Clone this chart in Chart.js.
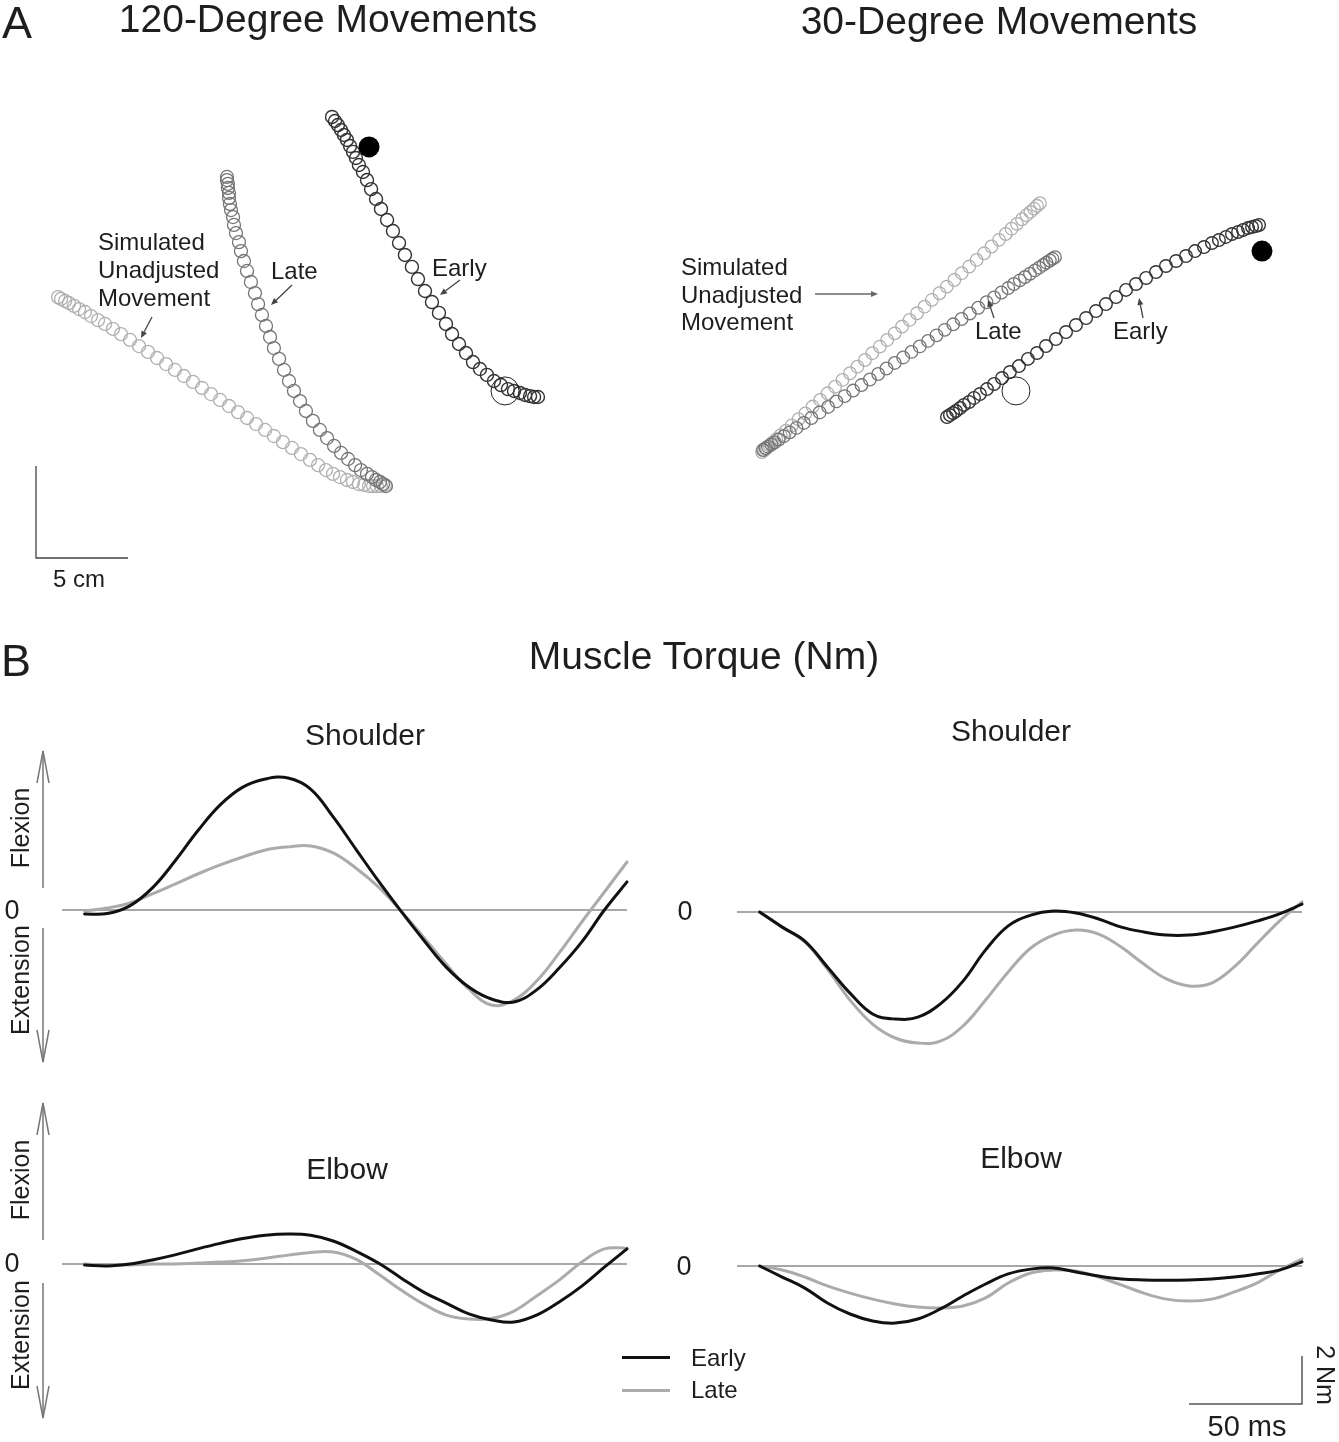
<!DOCTYPE html>
<html><head><meta charset="utf-8">
<script src="https://cdn.jsdelivr.net/npm/chart.js@4/dist/chart.umd.min.js"></script>
<style>
html,body{margin:0;padding:0;background:#fff;}
#page{position:relative;width:1339px;height:1442px;overflow:hidden;font-family:'Liberation Sans',Arial,Helvetica,sans-serif;color:#1e1e1e;}
canvas{position:absolute;}
.t{position:absolute;white-space:nowrap;line-height:1;transform:translate(-50%,-50%);}
.l{position:absolute;white-space:nowrap;line-height:1;transform:translate(0,-50%);}
.sw{position:absolute;height:3px;}
svg{position:absolute;left:0;top:0;}
</style></head><body><div id="page">
<canvas id="pa" width="1339" height="620" style="left:0;top:0"></canvas>
<canvas id="b1" width="576" height="336" style="left:62px;top:742px"></canvas>
<canvas id="b2" width="576" height="336" style="left:737px;top:744px"></canvas>
<canvas id="b3" width="576" height="336" style="left:62px;top:1096px"></canvas>
<canvas id="b4" width="576" height="336" style="left:737px;top:1098px"></canvas>
<svg id="ov" width="1339" height="1442"></svg>
<div id="texts"></div>
</div>
<script>
// ---------- Panel A: hand trajectories (cm, origin at the 5 cm scale-bar corner) ----------
const E120 = [[16.09,23.97],[16.25,23.75],[16.41,23.53],[16.58,23.26],[16.74,22.99],[16.90,22.72],[17.07,22.39],[17.23,22.07],[17.39,21.74],[17.55,21.36],[17.77,20.98],[17.99,20.54],[18.21,20.05],[18.48,19.51],[18.75,18.97],[19.08,18.37],[19.40,17.77],[19.73,17.12],[20.05,16.47],[20.43,15.82],[20.76,15.16],[21.14,14.51],[21.52,13.91],[21.90,13.32],[22.28,12.72],[22.61,12.17],[22.99,11.63],[23.37,11.14],[23.75,10.65],[24.13,10.27],[24.51,9.95],[24.89,9.62],[25.27,9.40],[25.65,9.18],[25.98,9.08],[26.30,8.97],[26.58,8.86],[26.85,8.80],[27.07,8.75],[27.28,8.75]];
const L120 = [[10.38,20.71],[10.38,20.54],[10.43,20.33],[10.43,20.11],[10.49,19.84],[10.49,19.57],[10.54,19.24],[10.60,18.91],[10.71,18.53],[10.76,18.10],[10.87,17.66],[11.03,17.17],[11.14,16.68],[11.30,16.14],[11.47,15.60],[11.68,15.00],[11.90,14.40],[12.07,13.80],[12.28,13.21],[12.50,12.61],[12.72,12.01],[12.93,11.41],[13.21,10.82],[13.48,10.22],[13.75,9.62],[14.02,9.08],[14.35,8.53],[14.67,7.99],[15.05,7.45],[15.43,6.96],[15.82,6.52],[16.20,6.09],[16.58,5.71],[16.96,5.38],[17.34,5.05],[17.66,4.78],[17.99,4.57],[18.26,4.40],[18.48,4.24],[18.70,4.13],[18.86,4.02],[19.02,3.91]];
const S120 = [[1.20,14.18],[1.36,14.08],[1.58,13.97],[1.79,13.86],[2.07,13.70],[2.34,13.53],[2.66,13.37],[2.99,13.15],[3.37,12.93],[3.75,12.72],[4.18,12.45],[4.62,12.17],[5.11,11.85],[5.60,11.52],[6.09,11.20],[6.58,10.87],[7.07,10.54],[7.55,10.22],[8.04,9.89],[8.53,9.57],[9.02,9.24],[9.51,8.91],[10.00,8.59],[10.49,8.26],[10.98,7.93],[11.47,7.61],[11.96,7.28],[12.45,6.96],[12.93,6.63],[13.42,6.30],[13.91,5.98],[14.40,5.65],[14.89,5.33],[15.33,5.05],[15.76,4.78],[16.14,4.57],[16.52,4.40],[16.90,4.24],[17.23,4.13],[17.55,4.02],[17.83,3.97],[18.10,3.91],[18.32,3.91],[18.53,3.91],[18.75,3.91],[18.97,3.97]];
const E30 = [[49.51,7.66],[49.67,7.77],[49.84,7.88],[50.00,7.99],[50.22,8.15],[50.43,8.32],[50.71,8.48],[50.98,8.70],[51.30,8.91],[51.68,9.18],[52.07,9.46],[52.50,9.78],[52.93,10.11],[53.42,10.43],[53.91,10.82],[54.40,11.14],[54.89,11.52],[55.43,11.90],[55.98,12.28],[56.52,12.66],[57.07,13.04],[57.61,13.42],[58.15,13.80],[58.70,14.18],[59.24,14.57],[59.78,14.89],[60.33,15.22],[60.87,15.54],[61.41,15.87],[61.96,16.14],[62.50,16.41],[62.99,16.68],[63.48,16.90],[63.91,17.12],[64.29,17.28],[64.67,17.45],[65.00,17.61],[65.33,17.72],[65.60,17.83],[65.87,17.93],[66.09,17.99],[66.30,18.04],[66.47,18.10]];
const L30 = [[39.51,5.87],[39.65,5.96],[39.78,6.05],[39.96,6.17],[40.15,6.29],[40.37,6.44],[40.65,6.62],[40.96,6.83],[41.33,7.07],[41.73,7.34],[42.14,7.61],[42.59,7.91],[43.05,8.21],[43.50,8.51],[43.95,8.80],[44.41,9.10],[44.86,9.40],[45.32,9.70],[45.77,10.00],[46.22,10.30],[46.67,10.60],[47.13,10.90],[47.58,11.20],[48.03,11.50],[48.48,11.80],[48.94,12.10],[49.39,12.40],[49.85,12.70],[50.30,12.99],[50.75,13.29],[51.21,13.60],[51.66,13.90],[52.07,14.16],[52.47,14.43],[52.84,14.67],[53.15,14.89],[53.47,15.09],[53.75,15.27],[54.02,15.45],[54.29,15.63],[54.52,15.78],[54.74,15.93],[54.92,16.05],[55.10,16.17],[55.24,16.26],[55.38,16.35]];
const S30 = [[39.46,5.76],[39.58,5.87],[39.70,5.98],[39.86,6.12],[40.03,6.27],[40.23,6.45],[40.47,6.67],[40.76,6.92],[41.08,7.21],[41.44,7.54],[41.81,7.86],[42.21,8.23],[42.62,8.59],[43.02,8.95],[43.43,9.31],[43.83,9.68],[44.24,10.04],[44.64,10.40],[45.05,10.76],[45.45,11.13],[45.86,11.49],[46.26,11.85],[46.67,12.21],[47.07,12.58],[47.48,12.94],[47.88,13.30],[48.29,13.66],[48.69,14.03],[49.10,14.39],[49.50,14.75],[49.91,15.11],[50.31,15.48],[50.72,15.84],[51.12,16.20],[51.53,16.56],[51.93,16.93],[52.34,17.29],[52.70,17.61],[53.02,17.90],[53.31,18.16],[53.59,18.41],[53.83,18.63],[54.04,18.81],[54.24,18.99],[54.40,19.14],[54.56,19.28]];
const TARGETS = [[25.49,9.08],[53.26,9.08]];      // open target circles
const STARTS  = [[18.10,22.34],[66.63,16.68]];    // filled start markers
const SCALE_A_X = [0,0,5];                        // 5 cm scale bar
const SCALE_A_Y = [5,0,0];

// ---------- Panel B: muscle torque (Nm) vs time (ms) ----------
const TIME_MS = [0,10,20,30,40,50,60,70,80,90,100,110,120,130,140,150,160,170,180,190,200,210,220,230,240];
const SH120_EARLY = [-0.17,-0.15,0.17,0.92,2.04,3.29,4.38,5.12,5.46,5.5,5.04,3.88,2.54,1.21,-0.05,-1.25,-2.38,-3.21,-3.71,-3.83,-3.33,-2.42,-1.33,0,1.17];
const SH120_LATE  = [-0.04,0.08,0.29,0.67,1.08,1.5,1.88,2.21,2.5,2.63,2.67,2.38,1.75,0.96,-0.04,-1.13,-2.25,-3.29,-3.96,-3.75,-2.96,-1.79,-0.5,0.75,2.0];
const SH30_EARLY  = [0,-0.63,-1.21,-2.29,-3.38,-4.25,-4.46,-4.38,-3.83,-2.88,-1.58,-0.58,-0.13,0.04,-0.04,-0.29,-0.63,-0.83,-0.96,-0.96,-0.83,-0.63,-0.38,-0.08,0.33];
const SH30_LATE   = [0,-0.63,-1.25,-2.38,-3.67,-4.67,-5.25,-5.46,-5.38,-4.75,-3.67,-2.5,-1.5,-0.96,-0.75,-0.92,-1.46,-2.17,-2.79,-3.08,-2.96,-2.29,-1.33,-0.38,0.42];
const EL120_EARLY = [-0.04,-0.08,0,0.17,0.38,0.63,0.86,1.06,1.2,1.25,1.2,0.96,0.54,0.04,-0.58,-1.17,-1.63,-2.08,-2.33,-2.42,-2.13,-1.58,-0.92,-0.13,0.63];
const EL120_LATE  = [0,-0.04,-0.04,0,0,0.04,0.08,0.14,0.24,0.37,0.48,0.5,0.2,-0.42,-1.08,-1.67,-2.13,-2.29,-2.27,-1.96,-1.33,-0.67,0.08,0.63,0.66];
const EL30_EARLY  = [0,-0.46,-0.92,-1.54,-2.0,-2.29,-2.38,-2.21,-1.79,-1.25,-0.75,-0.33,-0.13,-0.08,-0.25,-0.42,-0.54,-0.58,-0.59,-0.58,-0.54,-0.46,-0.33,-0.17,0.17];
const EL30_LATE   = [0,-0.17,-0.46,-0.83,-1.13,-1.38,-1.58,-1.71,-1.75,-1.67,-1.33,-0.71,-0.29,-0.17,-0.21,-0.46,-0.79,-1.13,-1.38,-1.46,-1.38,-1.08,-0.71,-0.17,0.29];
const ZERO_T = [-10,240];
const SCALE_B_T  = [190,240,240];     // 50 ms
const SCALE_B_NM = [-5.75,-5.75,-3.75]; // 2 Nm

// ---------- styling / layout ----------
const PX_PER_CM = 18.4, PX_PER_MS = 2.26, PX_PER_NM = 24;
const toPts = arr => arr.map(p => ({x:p[0], y:p[1]}));
const zip = (xs, ys) => xs.map((x,i) => ({x:x, y:ys[i]}));
const base = {responsive:false, animation:false, events:[], devicePixelRatio:1,
  layout:{padding:0, autoPadding:false},
  plugins:{legend:{display:false}, tooltip:{enabled:false}}};

const paCanvas = document.getElementById('pa');
const ox = 36, oy = 558;
new Chart(paCanvas, {
  type:'scatter',
  data:{datasets:[
    {data:toPts(STARTS), pointRadius:10.5, backgroundColor:'#000', borderColor:'#000', borderWidth:0},
    {data:toPts(TARGETS), pointRadius:14, backgroundColor:'rgba(0,0,0,0)', borderColor:'#222', borderWidth:1},
    {data:toPts(E120), pointRadius:6.5, backgroundColor:'rgba(0,0,0,0)', borderColor:'#333', borderWidth:1.4},
    {data:toPts(E30), pointRadius:6.3, backgroundColor:'rgba(0,0,0,0)', borderColor:'#333', borderWidth:1.4},
    {data:toPts(L120), pointRadius:6.5, backgroundColor:'rgba(0,0,0,0)', borderColor:'#767676', borderWidth:1.3},
    {data:toPts(L30), pointRadius:6.3, backgroundColor:'rgba(0,0,0,0)', borderColor:'#767676', borderWidth:1.3},
    {data:toPts(S120), pointRadius:6.5, backgroundColor:'rgba(0,0,0,0)', borderColor:'#b0b0b0', borderWidth:1.3},
    {data:toPts(S30), pointRadius:6.3, backgroundColor:'rgba(0,0,0,0)', borderColor:'#b0b0b0', borderWidth:1.3},
    {data:zip(SCALE_A_X, SCALE_A_Y), showLine:true, pointRadius:0, borderColor:'#444', borderWidth:1.3, tension:0}
  ]},
  options:Object.assign({}, base, {scales:{
    x:{type:'linear', display:false, min:-ox/PX_PER_CM, max:(paCanvas.width-ox)/PX_PER_CM},
    y:{type:'linear', display:false, min:(oy-paCanvas.height)/PX_PER_CM, max:oy/PX_PER_CM}}})
});

function torque(id, early, late, extra){
  const c = document.getElementById(id);
  const half = c.height/2/PX_PER_NM;
  const ds = [
    {data:zip(TIME_MS, early), borderColor:'#111', borderWidth:3, pointRadius:0, tension:0.4, borderCapStyle:'round'},
    {data:zip(TIME_MS, late), borderColor:'#ababab', borderWidth:3, pointRadius:0, tension:0.4, borderCapStyle:'round'},
    {data:zip(ZERO_T, [0,0]), borderColor:'#8a8a8a', borderWidth:1.4, pointRadius:0, tension:0}
  ];
  if (extra) ds.push(extra);
  new Chart(c, {type:'line', data:{datasets:ds},
    options:Object.assign({}, base, {scales:{
      x:{type:'linear', display:false, min:-10, max:-10 + c.width/PX_PER_MS},
      y:{type:'linear', display:false, min:-half, max:half}}})});
}
torque('b1', SH120_EARLY, SH120_LATE);
torque('b2', SH30_EARLY, SH30_LATE);
torque('b3', EL120_EARLY, EL120_LATE);
torque('b4', EL30_EARLY, EL30_LATE,
  {data:zip(SCALE_B_T, SCALE_B_NM), borderColor:'#555', borderWidth:1.5, pointRadius:0, tension:0});

// ---------- text ----------
const T = [
  ['t','A',17,22,45],
  ['t','120-Degree Movements',328,18,39],
  ['t','30-Degree Movements',999,20,39],
  ['l','Simulated',98,242,24],['l','Unadjusted',98,270,24],['l','Movement',98,298,24],
  ['l','Late',271,271,24],['l','Early',432,268,24],
  ['l','Simulated',681,267,24],['l','Unadjusted',681,295,24],['l','Movement',681,322,24],
  ['l','Late',975,331,24],['l','Early',1113,331,24],
  ['l','5 cm',53,579,24],
  ['t','B',16,660,45],
  ['t','Muscle Torque (Nm)',704,655,39],
  ['t','Shoulder',365,735,30],['t','Shoulder',1011,731,30],
  ['t','Elbow',347,1169,30],['t','Elbow',1021,1158,30],
  ['t','0',12,910,27],['t','0',12,1263,27],['t','0',685,911,27],['t','0',684,1266,27],
  ['r','Flexion',20,828,25],['r','Extension',20,980,25],
  ['r','Flexion',20,1180,25],['r','Extension',20,1335,25],
  ['l','Early',691,1358,24],['l','Late',691,1390,24],
  ['t','50 ms',1247,1426,29],
  ['r2','2 Nm',1325,1375,25]
];
const box = document.getElementById('texts');
T.forEach(([k,s,x,y,f]) => {
  const d = document.createElement('div');
  d.className = (k==='l') ? 'l' : 't';
  d.textContent = s;
  d.style.left = x+'px'; d.style.top = y+'px'; d.style.fontSize = f+'px';
  if (k==='r') d.style.transform = 'translate(-50%,-50%) rotate(-90deg)';
  if (k==='r2') d.style.transform = 'translate(-50%,-50%) rotate(90deg)';
  box.appendChild(d);
});
[['#111',1356],['#ababab',1389]].forEach(([c,y]) => {
  const d = document.createElement('div'); d.className='sw';
  d.style.left='622px'; d.style.top=y+'px'; d.style.width='48px'; d.style.background=c;
  box.appendChild(d);
});

// ---------- arrows (decoration) ----------
const NS = 'http://www.w3.org/2000/svg', ov = document.getElementById('ov');
function el(tag, attrs){ const e=document.createElementNS(NS,tag); for(const k in attrs) e.setAttribute(k,attrs[k]); ov.appendChild(e); return e; }
[[751,888,'up'],[928,1062,'down'],[1103,1240,'up'],[1283,1418,'down']].forEach(([a,b,dir]) => {
  el('line',{x1:43,y1:a,x2:43,y2:b,stroke:'#777','stroke-width':1.5});
  const tip = dir==='up' ? a : b, back = dir==='up' ? a+32 : b-32;
  el('polyline',{points:`37,${back} 43,${tip} 49,${back}`,stroke:'#777','stroke-width':1.5,fill:'none'});
});
[[152,317,141,338,'#444'],[292,285,271,305,'#444'],[460,280,440,295,'#444'],
 [815,294,878,294,'#666'],[994,318,988,300,'#444'],[1143,318,1139,298,'#444']].forEach(([x1,y1,x2,y2,c]) => {
  const dx=x2-x1, dy=y2-y1, L=Math.hypot(dx,dy), ux=dx/L, uy=dy/L, h=7, w=3;
  const bx=x2-ux*h, by=y2-uy*h;
  el('line',{x1:x1,y1:y1,x2:bx,y2:by,stroke:c,'stroke-width':1.3});
  el('polygon',{points:`${x2},${y2} ${bx-uy*w},${by+ux*w} ${bx+uy*w},${by-ux*w}`,fill:c});
});
</script>
</body></html>
